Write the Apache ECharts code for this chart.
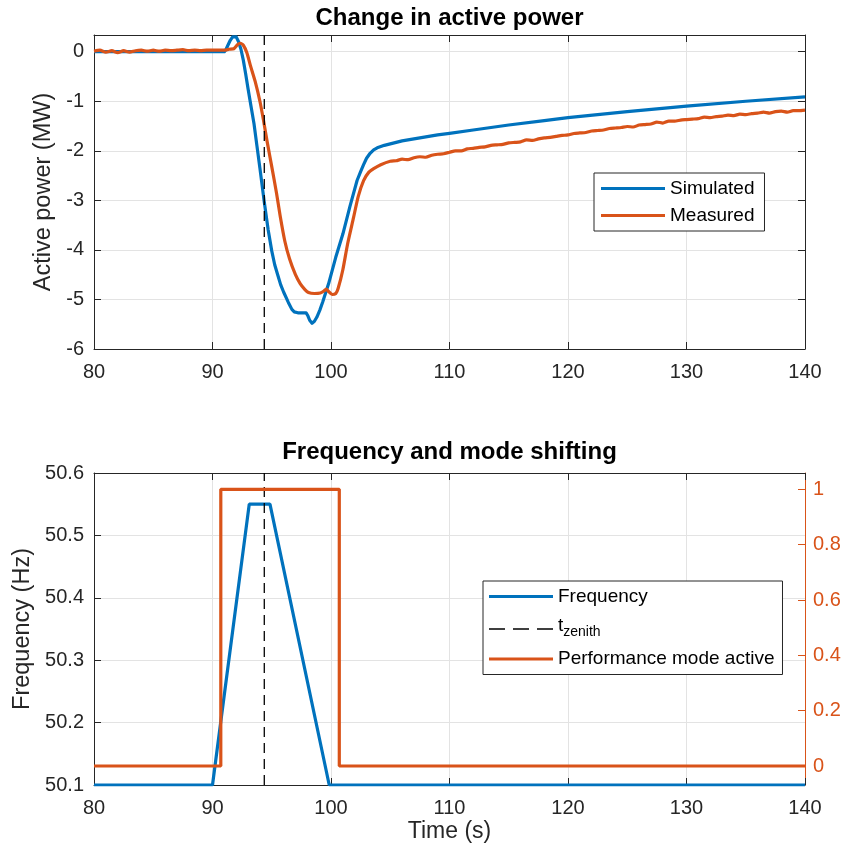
<!DOCTYPE html>
<html><head><meta charset="utf-8">
<script src="https://cdn.jsdelivr.net/npm/echarts@6/dist/echarts.min.js"></script>
<style>html,body{margin:0;padding:0;background:#fff}#c{width:845px;height:855px}</style>
</head><body><div id="c"></div><script>
// ---------- data ----------
const simTime  = [80, 91.0, 91.15, 91.3, 91.5, 91.7, 91.85, 92.0, 92.2, 92.4, 92.6, 92.8, 93.0, 93.25, 93.5, 93.75, 94.0, 94.35, 94.7, 95.0, 95.25, 95.5, 95.75, 96.0, 96.4, 96.7, 96.9, 97.2, 97.9, 98.05, 98.2, 98.4, 98.6, 98.8, 99.05, 99.3, 99.8, 100.4, 101.0, 101.6, 102.2, 102.5, 102.75, 103.0, 103.3, 103.6, 103.9, 104.5, 105, 106, 107, 108, 109, 110, 112, 115, 118, 120, 125, 130, 135, 140];
const simPower = [0, 0, 0.05, 0.13, 0.23, 0.3, 0.32, 0.3, 0.2, 0.05, -0.17, -0.45, -0.75, -1.1, -1.45, -1.9, -2.35, -3.0, -3.6, -4.02, -4.3, -4.5, -4.7, -4.85, -5.06, -5.2, -5.25, -5.27, -5.27, -5.33, -5.42, -5.48, -5.44, -5.36, -5.22, -5.05, -4.68, -4.15, -3.68, -3.12, -2.6, -2.42, -2.28, -2.15, -2.05, -1.98, -1.94, -1.89, -1.86, -1.8, -1.76, -1.72, -1.68, -1.65, -1.58, -1.48, -1.39, -1.33, -1.21, -1.1, -1.0, -0.91];

const measTime = [80, 80.5, 81, 81.5, 82, 82.5, 83, 83.5, 84, 84.5, 85, 85.5, 86, 86.5, 87, 87.5, 88, 88.5, 89, 89.5, 90, 90.5, 91, 91.4, 91.8, 92.1, 92.35, 92.6, 92.9, 93.2, 93.6, 94.0, 94.3, 94.6, 95.0, 95.4, 95.7, 96.1, 96.5, 97.0, 97.4, 97.8, 98.1, 98.6, 99.1, 99.4, 99.6, 99.8, 100.1, 100.4, 100.6, 101.0, 101.4, 101.9, 102.3, 102.75, 103.2, 103.6, 104.2,
  105.0, 105.5, 106.0, 106.5, 107.0, 107.5, 108.0, 108.5, 109.0, 109.5, 110.0, 110.5, 111.0, 111.5, 112.0, 112.5, 113.0, 113.5, 114.0, 114.5, 115.0, 115.5, 116.0, 116.5, 117.0, 117.5, 118.0, 118.5, 119.0, 119.5, 120.0, 120.5, 121.0, 121.5, 122.0, 122.5, 123.0, 123.5, 124.0, 124.5, 125.0, 125.5, 126.0, 126.5, 127.0, 127.5, 128.0, 128.5, 129.0, 129.5, 130.0, 130.5, 131.0, 131.5, 132.0, 132.5, 133.0, 133.5, 134.0, 134.5, 135.0, 135.5, 136.0, 136.5, 137.0, 137.5, 138.0, 138.5, 139.0, 139.5, 140.0];
const measPower = [0.01, 0.03, -0.01, 0.02, -0.02, 0.02, -0.01, 0.02, 0.03, 0.01, 0.03, 0.01, 0.03, 0.02, 0.03, 0.04, 0.02, 0.03, 0.02, 0.03, 0.03, 0.03, 0.03, 0.05, 0.06, 0.14, 0.17, 0.13, -0.02, -0.28, -0.6, -1.0, -1.38, -1.8, -2.32, -2.85, -3.3, -3.82, -4.18, -4.5, -4.68, -4.8, -4.86, -4.88, -4.87, -4.83, -4.79, -4.84, -4.9, -4.88, -4.78, -4.4, -3.88, -3.35, -2.92, -2.6, -2.43, -2.36, -2.28,
  -2.21, -2.20, -2.17, -2.18, -2.14, -2.12, -2.13, -2.09, -2.07, -2.06, -2.03, -2.00, -2.00, -1.96, -1.95, -1.93, -1.92, -1.89, -1.88, -1.87, -1.84, -1.83, -1.82, -1.78, -1.79, -1.76, -1.74, -1.73, -1.71, -1.69, -1.68, -1.65, -1.64, -1.63, -1.60, -1.59, -1.58, -1.55, -1.54, -1.53, -1.51, -1.52, -1.48, -1.47, -1.46, -1.42, -1.44, -1.40, -1.40, -1.38, -1.37, -1.36, -1.35, -1.32, -1.33, -1.31, -1.30, -1.28, -1.29, -1.26, -1.27, -1.25, -1.24, -1.22, -1.24, -1.21, -1.20, -1.22, -1.19, -1.19, -1.18];

const freqTime  = [80, 90.0, 93.1, 94.85, 99.85, 140];
const freqValue = [50.1, 50.1, 50.55, 50.55, 50.1, 50.1];

const modeTime  = [80, 90.7, 90.7, 100.7, 100.7, 140];
const modeValue = [0, 0, 1, 1, 0, 0];

const tZenith = 94.37;

const timeTicks  = [80, 90, 100, 110, 120, 130, 140];
const powerTicks = [-6, -5, -4, -3, -2, -1, 0];
const freqTicks  = [50.1, 50.2, 50.3, 50.4, 50.5, 50.6];
const modeTicks  = [0, 0.2, 0.4, 0.6, 0.8, 1];

// ---------- chart ----------
const BLUE = '#0072BD', ORANGE = '#D95319', AX = '#262626', GRID = '#e3e3e3';
const FONT = '"Liberation Sans", Arial, Helvetica, sans-serif';
const LW = 3.2;
const zip = (a, b) => a.map((v, i) => [v, b[i]]);
const SOLID_ICON = 'path://M0,0h0.01v0.01h-0.01zM0,5.4h64v3.2h-64zM63.99,13.99h0.01v0.01h-0.01z';
const DASH_ICON = 'path://M0,0h0.01v0.01h-0.01zM0,6.2h16v1.6h-16zM24,6.2h16v1.6h-16zM48,6.2h16v1.6h-16zM63.99,13.99h0.01v0.01h-0.01z';

function xAx(grid, pos, labels, extra) {
  return Object.assign({
    type: 'value', gridIndex: grid, position: pos, min: 80, max: 140, interval: 10,
    axisLine: { show: true, onZero: false, lineStyle: { color: AX, width: 1 } },
    axisTick: { show: true, inside: true, length: 7, customValues: timeTicks, lineStyle: { color: AX } },
    axisLabel: { show: labels, color: AX, fontSize: 20, fontFamily: FONT, margin: 13, customValues: timeTicks },
    splitLine: { show: labels, lineStyle: { color: GRID, width: 1 } }
  }, extra || {});
}

const legendCommon = {
  orient: 'vertical', itemWidth: 64, itemHeight: 14, selectedMode: false,
  borderColor: AX, borderWidth: 1, backgroundColor: '#fff', itemStyle: { borderWidth: 0 }
};

const option = {
  animation: false,
  backgroundColor: '#fff',
  textStyle: { fontFamily: FONT },
  title: [
    { text: 'Change in active power', left: 449.5, textAlign: 'center', top: 6, padding: 0,
      textStyle: { fontSize: 24, fontWeight: 'bold', color: '#000', fontFamily: FONT } },
    { text: 'Frequency and mode shifting', left: 449.5, textAlign: 'center', top: 440, padding: 0,
      textStyle: { fontSize: 24, fontWeight: 'bold', color: '#000', fontFamily: FONT } }
  ],
  grid: [
    { left: 94, top: 35, width: 711, height: 314 },
    { left: 94, top: 473, width: 711, height: 312 }
  ],
  legend: [
    Object.assign({}, legendCommon, {
      data: [{ name: 'Simulated', icon: SOLID_ICON }, { name: 'Measured', icon: SOLID_ICON }],
      left: 594, top: 173, itemGap: 8, padding: [6, 10, 6, 7],
      textStyle: { fontSize: 19, color: '#000', fontFamily: FONT } }),
    Object.assign({}, legendCommon, {
      data: [{ name: 'Frequency', icon: SOLID_ICON }, { name: 't_zenith', icon: DASH_ICON },
             { name: 'Performance mode active', icon: SOLID_ICON }],
      left: 483, top: 581, itemGap: 10, padding: [6, 8, 6, 6],
      formatter: n => n === 't_zenith' ? '{a|t}{b|zenith}' : n,
      textStyle: { fontSize: 19, color: '#000', fontFamily: FONT,
        rich: { a: { fontSize: 19, color: '#000', fontFamily: FONT, padding: [0, 0, 7, 0] },
                b: { fontSize: 14, color: '#000', fontFamily: FONT, padding: [7, 0, 0, 0] } } } })
  ],
  xAxis: [
    xAx(0, 'bottom', true),
    xAx(0, 'top', false),
    xAx(1, 'bottom', true, { name: 'Time (s)', nameLocation: 'middle', nameGap: 35,
      nameTextStyle: { fontSize: 23, color: AX, fontFamily: FONT } }),
    xAx(1, 'top', false)
  ],
  yAxis: [
    { type: 'value', gridIndex: 0, position: 'left', min: -6, max: 0.337, interval: 1,
      name: 'Active power (MW)', nameLocation: 'middle', nameGap: 35, nameRotate: 90,
      nameTextStyle: { fontSize: 23.5, color: AX, fontFamily: FONT },
      axisLine: { show: true, onZero: false, lineStyle: { color: AX } },
      axisTick: { show: true, inside: true, length: 7, customValues: powerTicks, lineStyle: { color: AX } },
      axisLabel: { color: AX, fontSize: 20, fontFamily: FONT, margin: 10, customValues: powerTicks },
      splitLine: { show: true, lineStyle: { color: GRID } } },
    { type: 'value', gridIndex: 0, position: 'right', min: -6, max: 0.337, interval: 1,
      axisLine: { show: true, onZero: false, lineStyle: { color: AX } },
      axisTick: { show: true, inside: true, length: 7, customValues: powerTicks, lineStyle: { color: AX } },
      axisLabel: { show: false }, splitLine: { show: false } },
    { type: 'value', gridIndex: 1, position: 'left', min: 50.1, max: 50.6, interval: 0.1,
      name: 'Frequency (Hz)', nameLocation: 'middle', nameGap: 56, nameRotate: 90,
      nameTextStyle: { fontSize: 23.5, color: AX, fontFamily: FONT },
      axisLine: { show: true, onZero: false, lineStyle: { color: AX } },
      axisTick: { show: true, inside: true, length: 7, customValues: freqTicks, lineStyle: { color: AX } },
      axisLabel: { color: AX, fontSize: 20, fontFamily: FONT, margin: 10, customValues: freqTicks,
        formatter: v => v.toFixed(1) },
      splitLine: { show: true, lineStyle: { color: GRID } } },
    { type: 'value', gridIndex: 1, position: 'right', min: -0.0687, max: 1.059,
      axisLine: { show: true, onZero: false, lineStyle: { color: ORANGE } },
      axisTick: { show: true, inside: true, length: 7, customValues: modeTicks, lineStyle: { color: ORANGE } },
      axisLabel: { color: ORANGE, fontSize: 20, fontFamily: FONT, margin: 8, customValues: modeTicks,
        formatter: v => (v === 0 || v === 1) ? String(v) : v.toFixed(1) },
      splitLine: { show: false } }
  ],
  series: [
    { name: 'Simulated', type: 'line', xAxisIndex: 0, yAxisIndex: 0, data: zip(simTime, simPower),
      symbol: 'none', color: BLUE, lineStyle: { color: BLUE, width: LW, join: 'round' } },
    { name: 'Measured', type: 'line', xAxisIndex: 0, yAxisIndex: 0, data: zip(measTime, measPower),
      symbol: 'none', smooth: 0.2, color: ORANGE, lineStyle: { color: ORANGE, width: LW, join: 'round' } },
    { name: 'tz_top', type: 'line', xAxisIndex: 0, yAxisIndex: 0, data: [[tZenith, -6], [tZenith, 0.337]],
      symbol: 'none', silent: true, color: '#000', lineStyle: { color: '#000', width: 1.3, type: [10, 6] } },
    { name: 'Frequency', type: 'line', xAxisIndex: 2, yAxisIndex: 2, data: zip(freqTime, freqValue),
      symbol: 'none', color: BLUE, lineStyle: { color: BLUE, width: LW } },
    { name: 't_zenith', type: 'line', xAxisIndex: 2, yAxisIndex: 2, data: [[tZenith, 50.1], [tZenith, 50.6]],
      symbol: 'none', silent: true, color: '#000', lineStyle: { color: '#000', width: 1.3, type: [10, 6] } },
    { name: 'Performance mode active', type: 'line', xAxisIndex: 2, yAxisIndex: 3, data: zip(modeTime, modeValue),
      symbol: 'none', color: ORANGE, lineStyle: { color: ORANGE, width: LW } }
  ]
};
const chart = echarts.init(document.getElementById('c'), null, { renderer: 'canvas' });
chart.setOption(option);
</script></body></html>
